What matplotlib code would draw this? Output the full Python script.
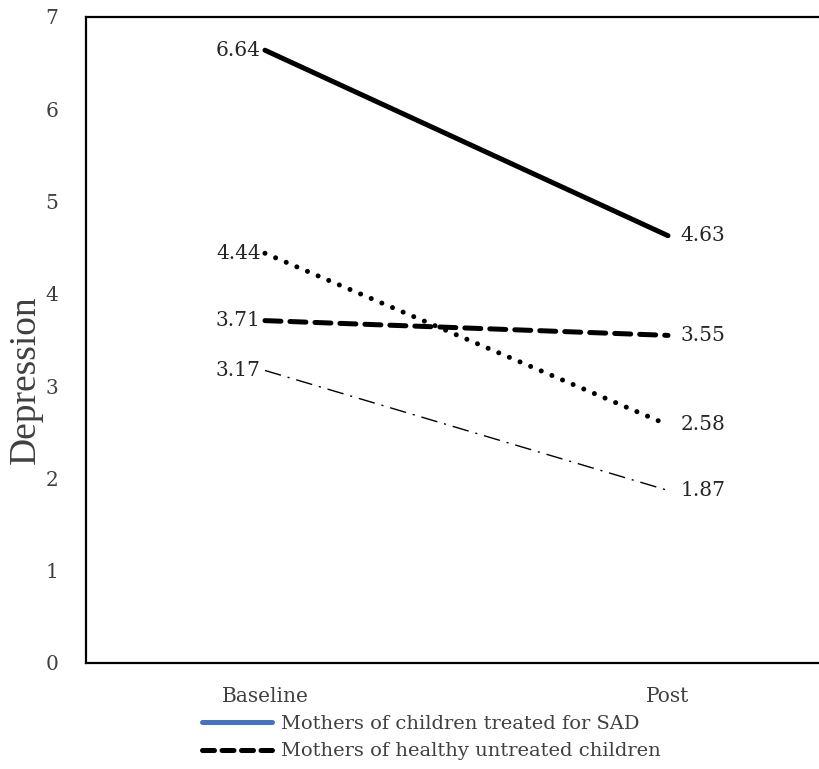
import matplotlib.pyplot as plt
from matplotlib.lines import Line2D

plt.rcParams["font.family"] = ["DejaVu Serif"]

time_points = ["Baseline", "Post"]
sad_mothers_treated = [6.64, 4.63]
sad_mothers_dotted = [4.44, 2.58]
healthy_mothers = [3.71, 3.55]
healthy_mothers_dashdot = [3.17, 1.87]
legend_labels = ["Mothers of children treated for SAD", "Mothers of healthy untreated children"]

fig = plt.figure(figsize=(8.19, 7.69), dpi=100)
ax = fig.add_axes([86 / 819, 106 / 769, 744 / 819, 646 / 769])

x = [0, 1]
ax.plot(x, sad_mothers_treated, color="black", lw=3.6, solid_capstyle="round")
ax.plot(x, sad_mothers_dotted, color="black", lw=3.6, linestyle=(0, (0.01, 2.3)),
        dash_capstyle="round")
ax.plot(x, healthy_mothers, color="black", lw=3.6, linestyle=(0, (3.2, 1.8)),
        dash_capstyle="round")
ax.plot(x, healthy_mothers_dashdot, color="black", lw=1.0,
        linestyle=(0, (12, 5, 1.5, 5)))

for series in [sad_mothers_treated, sad_mothers_dotted, healthy_mothers, healthy_mothers_dashdot]:
    ax.annotate(f"{series[0]:.2f}", (0, series[0]), xytext=(-3, 0), textcoords="offset points",
                ha="right", va="center", fontsize=14.5, color="#262626")
    ax.annotate(f"{series[1]:.2f}", (1, series[1]), xytext=(9, 0), textcoords="offset points",
                ha="left", va="center", fontsize=14.5, color="#262626")

ax.set_xlim(-0.444, 1.402)
ax.set_ylim(0, 7)
ax.set_xticks(x)
ax.set_xticklabels(time_points)
ax.set_yticks(range(0, 8))
ax.tick_params(length=0, labelsize=14.5, labelcolor="#404040")
ax.tick_params(axis="y", pad=20)
ax.tick_params(axis="x", pad=17)
for s in ax.spines.values():
    s.set_linewidth(1.6)
    s.set_color("black")
ax.set_ylabel("Depression", fontsize=27, color="#404040", family="Liberation Serif")
ax.yaxis.set_label_coords(-0.058, 0.438)

handles = [
    Line2D([], [], color="#4472C4", lw=3.6, solid_capstyle="round"),
    Line2D([], [], color="black", lw=3.6, linestyle=(0, (2.4, 1.5)), dash_capstyle="round"),
]
fig.legend(handles, legend_labels, loc="upper left", bbox_to_anchor=(192 / 819, 1 - 705 / 769),
           frameon=False, fontsize=14, handlelength=3.6, handletextpad=0.5,
           labelspacing=0.5, borderpad=0, labelcolor="#404040")

plt.savefig("out.png", dpi=100)
